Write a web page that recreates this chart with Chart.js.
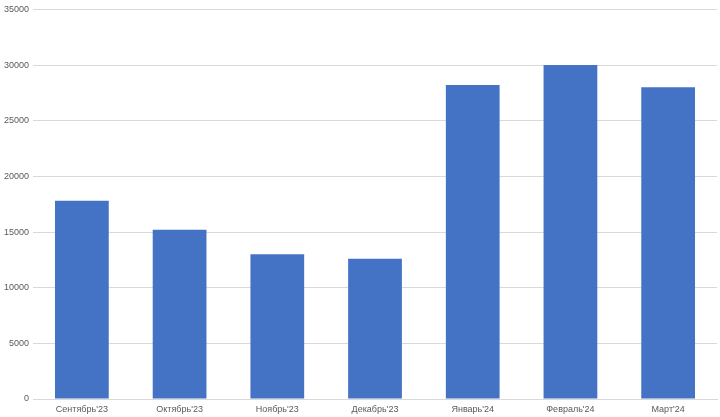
<!DOCTYPE html><html><head><meta charset="utf-8">
<script src="https://cdn.jsdelivr.net/npm/chart.js@4"></script>
<style>html,body{margin:0;background:#fff}#w{width:720px;height:417px}</style></head><body>
<div id="w"><canvas id="c"></canvas></div>
<script>
const categories=["Сентябрь'23","Октябрь'23","Ноябрь'23","Декабрь'23","Январь'24","Февраль'24","Март'24"];
const values=[17800,15200,13000,12600,28200,30000,28000];
new Chart(document.getElementById('c'),{type:'bar',
data:{labels:categories,datasets:[{data:values,backgroundColor:'#4472C4',categoryPercentage:1,barPercentage:0.55}]},
options:{responsive:true,maintainAspectRatio:false,animation:false,
layout:{padding:{top:-4,right:3,left:0,bottom:0}},
plugins:{legend:{display:false},tooltip:{enabled:false}},
scales:{x:{grid:{display:false,drawTicks:false},border:{color:'#d9d9d9'},afterFit:s=>{s.height=18},ticks:{color:'#595959',font:{family:'Liberation Sans',size:9},maxRotation:0,padding:5}},
y:{min:0,max:35000,ticks:{stepSize:5000,callback:v=>String(v),color:'#595959',font:{family:'Liberation Sans',size:9},padding:4},grid:{color:'#d9d9d9',drawTicks:false},border:{display:false}}}}});
</script></body></html>
